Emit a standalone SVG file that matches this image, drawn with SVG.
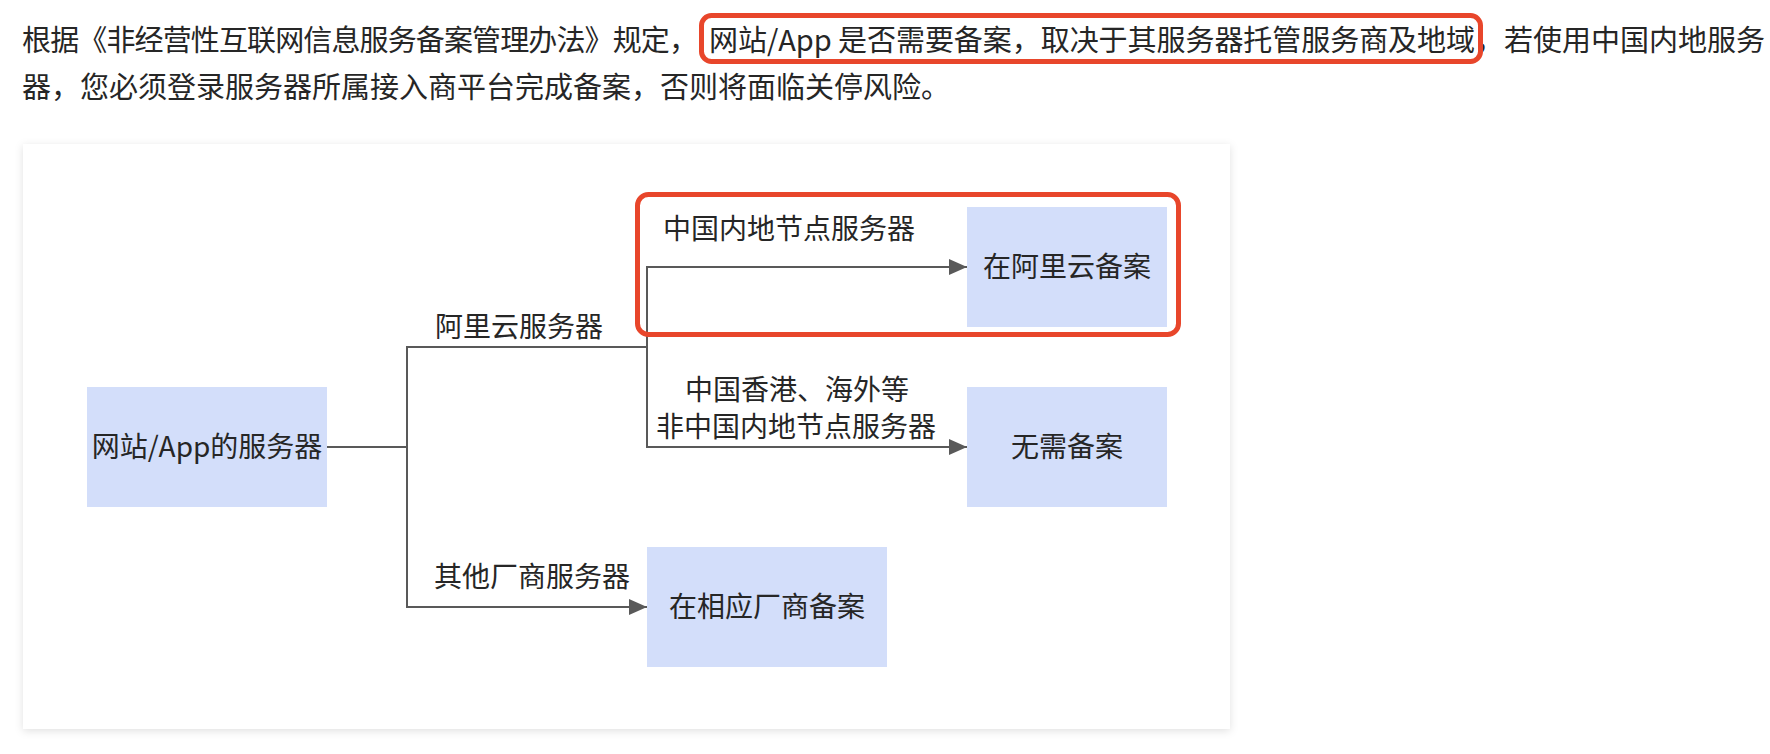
<svg xmlns="http://www.w3.org/2000/svg" width="1770" height="754" viewBox="0 0 1770 754">
  <style>
    .para { font-family: "Noto Sans CJK SC", "Noto Sans", sans-serif; font-size: 29px; fill: #262626; }
    .lbl { font-family: "Noto Sans CJK SC", "Noto Sans", sans-serif; font-size: 28px; fill: #262626; }
    .node rect { fill: #D3DEFA; }
    .node text { font-family: "Noto Sans CJK SC", "Noto Sans", sans-serif; font-size: 28px; fill: #262626; text-anchor: middle; }
    .conn path { fill: none; stroke: #595959; stroke-width: 2; }
    .hl { fill: none; stroke: #E8462B; stroke-width: 5; }
  </style>
  <defs>
    <marker id="arr" markerUnits="userSpaceOnUse" markerWidth="18" markerHeight="16" refX="18" refY="8" orient="auto">
      <path d="M0,0 L18,8 L0,16 Z" fill="#595959"/>
    </marker>
    <filter id="shadow" x="-5%" y="-5%" width="110%" height="110%">
      <feDropShadow dx="0" dy="2" stdDeviation="4" flood-color="#000" flood-opacity="0.12"/>
    </filter>
  </defs>
  <rect width="1770" height="754" fill="#ffffff"/>

  <g id="paragraph">
    <text class="para" x="22" y="51" textLength="676" lengthAdjust="spacing">根据《非经营性互联网信息服务备案管理办法》规定，</text>
    <text class="para" x="709" y="51" textLength="766" lengthAdjust="spacing">网站/App 是否需要备案，取决于其服务器托管服务商及地域</text>
    <text class="para" x="1475" y="51">，若使用中国内地服务</text>
    <text class="para" x="22" y="98">器，您必须登录服务器所属接入商平台完成备案，否则将面临关停风险。</text>
    <rect class="hl" x="701.5" y="15.5" width="779" height="46" rx="10"/>
  </g>

  <rect id="card" x="23" y="144" width="1207" height="585" fill="#ffffff" filter="url(#shadow)"/>

  <g id="connectors" class="conn">
    <path d="M327,447 H407"/>
    <path d="M407,447 V347 H647"/>
    <path d="M407,447 V607 H647" marker-end="url(#arr)"/>
    <path d="M647,347 V267 H967" marker-end="url(#arr)"/>
    <path d="M647,347 V447 H967" marker-end="url(#arr)"/>
  </g>

  <g id="edge-labels">
    <text class="lbl" x="435" y="337">阿里云服务器</text>
    <text class="lbl" x="663" y="239">中国内地节点服务器</text>
    <text class="lbl" x="797" y="400" text-anchor="middle">中国香港、海外等</text>
    <text class="lbl" x="796" y="437" text-anchor="middle">非中国内地节点服务器</text>
    <text class="lbl" x="434" y="587">其他厂商服务器</text>
  </g>

  <g id="node-server" class="node">
    <rect x="87" y="387" width="240" height="120"/>
    <text x="207" y="457">网站/App的服务器</text>
  </g>
  <g id="node-aliyun" class="node">
    <rect x="967" y="207" width="200" height="120"/>
    <text x="1067" y="277">在阿里云备案</text>
  </g>
  <g id="node-none" class="node">
    <rect x="967" y="387" width="200" height="120"/>
    <text x="1067" y="457">无需备案</text>
  </g>
  <g id="node-other" class="node">
    <rect x="647" y="547" width="240" height="120"/>
    <text x="767" y="617">在相应厂商备案</text>
  </g>

  <rect id="highlight-box" class="hl" x="637.5" y="194.5" width="541" height="140" rx="11"/>
</svg>
